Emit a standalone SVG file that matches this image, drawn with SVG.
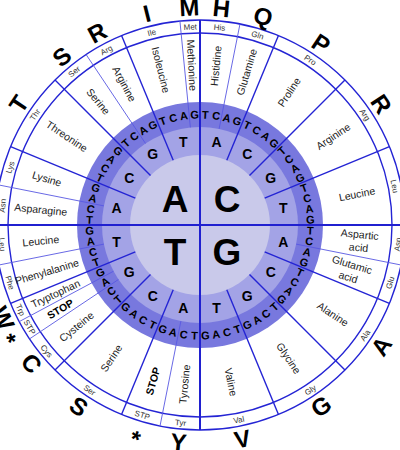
<svg xmlns="http://www.w3.org/2000/svg" width="400" height="450" viewBox="0 0 400 450">
<style>
.ln{stroke:#2424d4;stroke-width:1.4;fill:none}
.lx{stroke:#2020d0;stroke-width:2;fill:none}
.lt{stroke:#5858e2;stroke-width:0.9;fill:none}
text{font-family:"Liberation Sans",Arial,sans-serif;text-anchor:middle}
.c0{font-size:37px;font-weight:bold;fill:#000}
.c1{font-size:14px;font-weight:bold;fill:#000}
.c2{font-size:11px;font-weight:bold;fill:#000}
.nm{font-size:10.5px;fill:#222}
.st{font-size:10.5px;font-weight:bold;fill:#000}
.ab{font-size:8px;fill:#333}
.bg{font-size:24px;font-weight:bold;fill:#000}
</style>
<rect width="400" height="450" fill="#fff"/>
<g id="rings">
<circle cx="200" cy="225" r="123" fill="#7878de"/>
<circle cx="200" cy="225" r="98" fill="#a3a3e6"/>
<circle cx="200" cy="225" r="70" fill="#c9c9ea"/>
<circle class="ln" cx="200" cy="225" r="205"/>
<circle class="ln" cx="200" cy="225" r="192"/>
</g>
<g id="connectors">
<line class="lx" x1="200" y1="20" x2="200" y2="430"/>
<line class="lx" x1="-5" y1="225" x2="405" y2="225"/>
<line class="ln" x1="226.79" y1="160.33" x2="278.45" y2="35.60"/>
<line class="ln" x1="249.50" y1="175.50" x2="344.96" y2="80.04"/>
<line class="ln" x1="264.67" y1="198.21" x2="389.40" y2="146.55"/>
<line class="ln" x1="264.67" y1="251.79" x2="389.40" y2="303.45"/>
<line class="ln" x1="249.50" y1="274.50" x2="344.96" y2="369.96"/>
<line class="ln" x1="226.79" y1="289.67" x2="278.45" y2="414.40"/>
<line class="ln" x1="173.21" y1="289.67" x2="121.55" y2="414.40"/>
<line class="ln" x1="150.50" y1="274.50" x2="55.04" y2="369.96"/>
<line class="ln" x1="135.33" y1="251.79" x2="10.60" y2="303.45"/>
<line class="ln" x1="135.33" y1="198.21" x2="10.60" y2="146.55"/>
<line class="ln" x1="150.50" y1="175.50" x2="55.04" y2="80.04"/>
<line class="ln" x1="173.21" y1="160.33" x2="121.55" y2="35.60"/>
<line class="lt" x1="219.12" y1="128.88" x2="239.99" y2="23.94"/>
<line class="lt" x1="296.12" y1="244.12" x2="401.06" y2="265.00"/>
<line class="lt" x1="180.88" y1="321.12" x2="160.01" y2="426.06"/>
<line class="lt" x1="118.52" y1="279.45" x2="29.55" y2="338.89"/>
<line class="lt" x1="113.57" y1="271.20" x2="19.21" y2="321.64"/>
<line class="lt" x1="103.88" y1="244.12" x2="-1.06" y2="265.00"/>
<line class="lt" x1="103.88" y1="205.88" x2="-1.06" y2="185.00"/>
<line class="lt" x1="145.55" y1="143.52" x2="86.11" y2="54.55"/>
<line class="lt" x1="190.39" y1="127.47" x2="179.91" y2="20.99"/>
</g>
<g id="first-base">
<text class="c0" x="175" y="212">A</text>
<text class="c0" x="227" y="212">C</text>
<text class="c0" x="175" y="265">T</text>
<text class="c0" x="227" y="265">G</text>
</g>
<g id="second-base">
<text class="c1" x="216.6" y="146.6">A</text>
<text class="c1" x="247.2" y="159.3">C</text>
<text class="c1" x="270.7" y="182.8">G</text>
<text class="c1" x="283.4" y="213.4">T</text>
<text class="c1" x="283.4" y="246.6">A</text>
<text class="c1" x="270.7" y="277.2">C</text>
<text class="c1" x="247.2" y="300.7">G</text>
<text class="c1" x="216.6" y="313.4">T</text>
<text class="c1" x="183.4" y="313.4">A</text>
<text class="c1" x="152.8" y="300.7">C</text>
<text class="c1" x="129.3" y="277.2">G</text>
<text class="c1" x="116.6" y="246.6">T</text>
<text class="c1" x="116.6" y="213.4">A</text>
<text class="c1" x="129.3" y="182.8">C</text>
<text class="c1" x="152.8" y="159.3">G</text>
<text class="c1" x="183.4" y="146.6">T</text>
</g>
<g id="third-base" class="c2">
<text class="c2" transform="rotate(2.8125 200 225) translate(200 114.5)" y="4">T</text>
<text class="c2" transform="rotate(8.4375 200 225) translate(200 114.5)" y="4">C</text>
<text class="c2" transform="rotate(14.0625 200 225) translate(200 114.5)" y="4">A</text>
<text class="c2" transform="rotate(19.6875 200 225) translate(200 114.5)" y="4">G</text>
<text class="c2" transform="rotate(25.3125 200 225) translate(200 114.5)" y="4">T</text>
<text class="c2" transform="rotate(30.9375 200 225) translate(200 114.5)" y="4">C</text>
<text class="c2" transform="rotate(36.5625 200 225) translate(200 114.5)" y="4">A</text>
<text class="c2" transform="rotate(42.1875 200 225) translate(200 114.5)" y="4">G</text>
<text class="c2" transform="rotate(47.8125 200 225) translate(200 114.5) rotate(-90)" y="4">T</text>
<text class="c2" transform="rotate(53.4375 200 225) translate(200 114.5) rotate(-90)" y="4">C</text>
<text class="c2" transform="rotate(59.0625 200 225) translate(200 114.5) rotate(-90)" y="4">A</text>
<text class="c2" transform="rotate(64.6875 200 225) translate(200 114.5) rotate(-90)" y="4">G</text>
<text class="c2" transform="rotate(70.3125 200 225) translate(200 114.5) rotate(-90)" y="4">T</text>
<text class="c2" transform="rotate(75.9375 200 225) translate(200 114.5) rotate(-90)" y="4">C</text>
<text class="c2" transform="rotate(81.5625 200 225) translate(200 114.5) rotate(-90)" y="4">A</text>
<text class="c2" transform="rotate(87.1875 200 225) translate(200 114.5) rotate(-90)" y="4">G</text>
<text class="c2" transform="rotate(92.8125 200 225) translate(200 114.5) rotate(-90)" y="4">T</text>
<text class="c2" transform="rotate(98.4375 200 225) translate(200 114.5) rotate(-90)" y="4">C</text>
<text class="c2" transform="rotate(104.0625 200 225) translate(200 114.5) rotate(-90)" y="4">A</text>
<text class="c2" transform="rotate(109.6875 200 225) translate(200 114.5) rotate(-90)" y="4">G</text>
<text class="c2" transform="rotate(115.3125 200 225) translate(200 114.5) rotate(-90)" y="4">T</text>
<text class="c2" transform="rotate(120.9375 200 225) translate(200 114.5) rotate(-90)" y="4">C</text>
<text class="c2" transform="rotate(126.5625 200 225) translate(200 114.5) rotate(-90)" y="4">A</text>
<text class="c2" transform="rotate(132.1875 200 225) translate(200 114.5) rotate(-90)" y="4">G</text>
<text class="c2" transform="rotate(137.8125 200 225) translate(200 114.5) rotate(-180)" y="4">T</text>
<text class="c2" transform="rotate(143.4375 200 225) translate(200 114.5) rotate(-180)" y="4">C</text>
<text class="c2" transform="rotate(149.0625 200 225) translate(200 114.5) rotate(-180)" y="4">A</text>
<text class="c2" transform="rotate(154.6875 200 225) translate(200 114.5) rotate(-180)" y="4">G</text>
<text class="c2" transform="rotate(160.3125 200 225) translate(200 114.5) rotate(-180)" y="4">T</text>
<text class="c2" transform="rotate(165.9375 200 225) translate(200 114.5) rotate(-180)" y="4">C</text>
<text class="c2" transform="rotate(171.5625 200 225) translate(200 114.5) rotate(-180)" y="4">A</text>
<text class="c2" transform="rotate(177.1875 200 225) translate(200 114.5) rotate(-180)" y="4">G</text>
<text class="c2" transform="rotate(182.8125 200 225) translate(200 114.5) rotate(-180)" y="4">T</text>
<text class="c2" transform="rotate(188.4375 200 225) translate(200 114.5) rotate(-180)" y="4">C</text>
<text class="c2" transform="rotate(194.0625 200 225) translate(200 114.5) rotate(-180)" y="4">A</text>
<text class="c2" transform="rotate(199.6875 200 225) translate(200 114.5) rotate(-180)" y="4">G</text>
<text class="c2" transform="rotate(205.3125 200 225) translate(200 114.5) rotate(-180)" y="4">T</text>
<text class="c2" transform="rotate(210.9375 200 225) translate(200 114.5) rotate(-180)" y="4">C</text>
<text class="c2" transform="rotate(216.5625 200 225) translate(200 114.5) rotate(-180)" y="4">A</text>
<text class="c2" transform="rotate(222.1875 200 225) translate(200 114.5) rotate(-180)" y="4">G</text>
<text class="c2" transform="rotate(227.8125 200 225) translate(200 114.5) rotate(90)" y="4">T</text>
<text class="c2" transform="rotate(233.4375 200 225) translate(200 114.5) rotate(90)" y="4">C</text>
<text class="c2" transform="rotate(239.0625 200 225) translate(200 114.5) rotate(90)" y="4">A</text>
<text class="c2" transform="rotate(244.6875 200 225) translate(200 114.5) rotate(90)" y="4">G</text>
<text class="c2" transform="rotate(250.3125 200 225) translate(200 114.5) rotate(90)" y="4">T</text>
<text class="c2" transform="rotate(255.9375 200 225) translate(200 114.5) rotate(90)" y="4">C</text>
<text class="c2" transform="rotate(261.5625 200 225) translate(200 114.5) rotate(90)" y="4">A</text>
<text class="c2" transform="rotate(267.1875 200 225) translate(200 114.5) rotate(90)" y="4">G</text>
<text class="c2" transform="rotate(272.8125 200 225) translate(200 114.5) rotate(90)" y="4">T</text>
<text class="c2" transform="rotate(278.4375 200 225) translate(200 114.5) rotate(90)" y="4">C</text>
<text class="c2" transform="rotate(284.0625 200 225) translate(200 114.5) rotate(90)" y="4">A</text>
<text class="c2" transform="rotate(289.6875 200 225) translate(200 114.5) rotate(90)" y="4">G</text>
<text class="c2" transform="rotate(295.3125 200 225) translate(200 114.5) rotate(90)" y="4">T</text>
<text class="c2" transform="rotate(300.9375 200 225) translate(200 114.5) rotate(90)" y="4">C</text>
<text class="c2" transform="rotate(306.5625 200 225) translate(200 114.5) rotate(90)" y="4">A</text>
<text class="c2" transform="rotate(312.1875 200 225) translate(200 114.5) rotate(90)" y="4">G</text>
<text class="c2" transform="rotate(317.8125 200 225) translate(200 114.5)" y="4">T</text>
<text class="c2" transform="rotate(323.4375 200 225) translate(200 114.5)" y="4">C</text>
<text class="c2" transform="rotate(329.0625 200 225) translate(200 114.5)" y="4">A</text>
<text class="c2" transform="rotate(334.6875 200 225) translate(200 114.5)" y="4">G</text>
<text class="c2" transform="rotate(340.3125 200 225) translate(200 114.5)" y="4">T</text>
<text class="c2" transform="rotate(345.9375 200 225) translate(200 114.5)" y="4">C</text>
<text class="c2" transform="rotate(351.5625 200 225) translate(200 114.5)" y="4">A</text>
<text class="c2" transform="rotate(357.1875 200 225) translate(200 114.5)" y="4">G</text>
</g>
<g id="names">
<text class="nm" transform="rotate(5.625 200 225) translate(200 65) rotate(-90)" y="4">Histidine</text>
<text class="nm" transform="rotate(16.875 200 225) translate(200 65) rotate(-90)" y="4">Glutamine</text>
<text class="nm" transform="rotate(33.75 200 225) translate(200 65) rotate(-90)" y="4">Proline</text>
<text class="nm" transform="rotate(56.25 200 225) translate(200 65) rotate(-90)" y="4">Arginine</text>
<text class="nm" transform="rotate(78.75 200 225) translate(200 65) rotate(-90)" y="4">Leucine</text>
<text class="nm" transform="rotate(95.625 200 225) translate(200 65) rotate(-90)"><tspan x="0" y="-2.5">Aspartic</tspan><tspan x="0" y="10.5">acid</tspan></text>
<text class="nm" transform="rotate(106.875 200 225) translate(200 68) rotate(-90)"><tspan x="0" y="-2.5">Glutamic</tspan><tspan x="0" y="10.5">acid</tspan></text>
<text class="nm" transform="rotate(123.75 200 225) translate(200 65) rotate(-90)" y="4">Alanine</text>
<text class="nm" transform="rotate(146.25 200 225) translate(200 65) rotate(-90)" y="4">Glycine</text>
<text class="nm" transform="rotate(168.75 200 225) translate(200 65) rotate(-90)" y="4">Valine</text>
<text class="nm" transform="rotate(185.625 200 225) translate(200 65) rotate(90)" y="4">Tyrosine</text>
<text class="st" transform="rotate(196.875 200 225) translate(200 62) rotate(90)" y="4">STOP</text>
<text class="nm" transform="rotate(213.75 200 225) translate(200 65) rotate(90)" y="4">Serine</text>
<text class="nm" transform="rotate(230.625 200 225) translate(200 65) rotate(90)" y="4">Cysteine</text>
<text class="st" transform="rotate(239.0625 200 225) translate(200 62) rotate(90)" y="4">STOP</text>
<text class="nm" transform="rotate(244.6875 200 225) translate(200 65) rotate(90)" y="4">Tryptophan</text>
<text class="nm" transform="rotate(253.125 200 225) translate(200 65) rotate(90)" y="4">Phenylalanine</text>
<text class="nm" transform="rotate(264.375 200 225) translate(200 65) rotate(90)" y="4">Leucine</text>
<text class="nm" transform="rotate(275.625 200 225) translate(200 65) rotate(90)" y="4">Asparagine</text>
<text class="nm" transform="rotate(286.875 200 225) translate(200 65) rotate(90)" y="4">Lysine</text>
<text class="nm" transform="rotate(303.75 200 225) translate(200 65) rotate(90)" y="4">Threonine</text>
<text class="nm" transform="rotate(320.625 200 225) translate(200 65) rotate(90)" y="4">Serine</text>
<text class="nm" transform="rotate(331.875 200 225) translate(200 65) rotate(90)" y="4">Arginine</text>
<text class="nm" transform="rotate(345.9375 200 225) translate(200 65) rotate(90)" y="4">Isoleucine</text>
<text class="nm" transform="rotate(357.1875 200 225) translate(200 65) rotate(90)" y="4">Methionine</text>
</g>
<g id="abbreviations">
<text class="ab" transform="rotate(5.625 200 225)" x="200" y="29.4">His</text>
<text class="ab" transform="rotate(16.875 200 225)" x="200" y="29.4">Gln</text>
<text class="ab" transform="rotate(33.75 200 225)" x="200" y="29.4">Pro</text>
<text class="ab" transform="rotate(56.25 200 225)" x="200" y="29.4">Arg</text>
<text class="ab" transform="rotate(78.75 200 225)" x="200" y="29.4">Leu</text>
<text class="ab" transform="rotate(95.625 200 225) translate(200 26.5) rotate(180)" y="2.9">Asp</text>
<text class="ab" transform="rotate(106.875 200 225) translate(200 26.5) rotate(180)" y="2.9">Glu</text>
<text class="ab" transform="rotate(123.75 200 225) translate(200 26.5) rotate(180)" y="2.9">Ala</text>
<text class="ab" transform="rotate(146.25 200 225) translate(200 26.5) rotate(180)" y="2.9">Gly</text>
<text class="ab" transform="rotate(168.75 200 225) translate(200 26.5) rotate(180)" y="2.9">Val</text>
<text class="ab" transform="rotate(185.625 200 225) translate(200 26.5) rotate(180)" y="2.9">Tyr</text>
<text class="ab" transform="rotate(196.875 200 225) translate(200 26.5) rotate(180)" y="2.9">STP</text>
<text class="ab" transform="rotate(213.75 200 225) translate(200 26.5) rotate(180)" y="2.9">Ser</text>
<text class="ab" transform="rotate(230.625 200 225) translate(200 26.5) rotate(180)" y="2.9">Cys</text>
<text class="ab" transform="rotate(239.0625 200 225) translate(200 26.5) rotate(180)" y="2.9">STP</text>
<text class="ab" transform="rotate(244.6875 200 225) translate(200 26.5) rotate(180)" y="2.9">Trp</text>
<text class="ab" transform="rotate(253.125 200 225) translate(200 26.5) rotate(180)" y="2.9">Phe</text>
<text class="ab" transform="rotate(264.375 200 225) translate(200 26.5) rotate(180)" y="2.9">Leu</text>
<text class="ab" transform="rotate(275.625 200 225)" x="200" y="29.4">Asn</text>
<text class="ab" transform="rotate(286.875 200 225)" x="200" y="29.4">Lys</text>
<text class="ab" transform="rotate(303.75 200 225)" x="200" y="29.4">Thr</text>
<text class="ab" transform="rotate(320.625 200 225)" x="200" y="29.4">Ser</text>
<text class="ab" transform="rotate(331.875 200 225)" x="200" y="29.4">Arg</text>
<text class="ab" transform="rotate(345.9375 200 225)" x="200" y="29.4">Ile</text>
<text class="ab" transform="rotate(357.1875 200 225)" x="200" y="29.4">Met</text>
</g>
<g id="letter-codes">
<text class="bg" transform="rotate(5.625 200 225)" x="200" y="15.5">H</text>
<text class="bg" transform="rotate(16.875 200 225)" x="200" y="15.5">Q</text>
<text class="bg" transform="rotate(33.75 200 225)" x="200" y="15.5">P</text>
<text class="bg" transform="rotate(56.25 200 225)" x="200" y="15.5">R</text>
<text class="bg" transform="rotate(123.75 200 225) translate(200 7) rotate(180)" y="8.5">A</text>
<text class="bg" transform="rotate(146.25 200 225) translate(200 7) rotate(180)" y="8.5">G</text>
<text class="bg" transform="rotate(168.75 200 225) translate(200 7) rotate(180)" y="8.5">V</text>
<text class="bg" transform="rotate(185.625 200 225) translate(200 7) rotate(180)" y="8.5">Y</text>
<text class="bg" transform="rotate(196.875 200 225) translate(200 7) rotate(180)" y="14">*</text>
<text class="bg" transform="rotate(213.75 200 225) translate(200 7) rotate(180)" y="8.5">S</text>
<text class="bg" transform="rotate(230.625 200 225) translate(200 7) rotate(180)" y="8.5">C</text>
<text class="bg" transform="rotate(239.0625 200 225) translate(200 7) rotate(180)" y="14">*</text>
<text class="bg" transform="rotate(244.6875 200 225) translate(200 7) rotate(180)" y="8.5">W</text>
<text class="bg" transform="rotate(303.75 200 225)" x="200" y="15.5">T</text>
<text class="bg" transform="rotate(320.625 200 225)" x="200" y="15.5">S</text>
<text class="bg" transform="rotate(331.875 200 225)" x="200" y="15.5">R</text>
<text class="bg" transform="rotate(345.9375 200 225)" x="200" y="15.5">I</text>
<text class="bg" transform="rotate(357.1875 200 225)" x="200" y="15.5">M</text>
</g>
</svg>
